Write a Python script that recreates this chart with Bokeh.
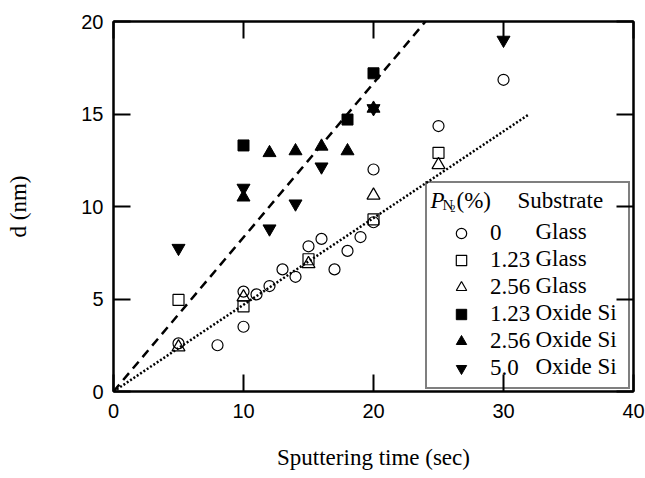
from bokeh.plotting import figure
from bokeh.models import Range1d, LinearAxis, FixedTicker, Legend, LegendItem
from bokeh.core.properties import value
from bokeh.embed import file_html
from bokeh.resources import INLINE

# ---------------- data ----------------
glass0_x = [5, 8, 10, 10, 11, 12, 13, 14, 15, 16, 17, 18, 19, 20, 20, 25, 30]
glass0_y = [2.6, 2.5, 5.4, 3.5, 5.25, 5.7, 6.6, 6.2, 7.85, 8.25, 6.6, 7.6, 8.35, 12.0, 9.15, 14.35, 16.85]

glass123_x = [5, 10, 15, 20, 25]
glass123_y = [4.95, 4.6, 7.15, 9.3, 12.9]

glass256_x = [5, 10, 15, 20, 25]
glass256_y = [2.4, 5.1, 6.9, 10.6, 12.25]

oxide123_x = [10, 18, 20]
oxide123_y = [13.3, 14.7, 17.2]

oxide256_x = [10, 12, 14, 16, 18, 20]
oxide256_y = [10.5, 12.9, 13.0, 13.25, 13.0, 15.3]

oxide50_x = [5, 10, 12, 14, 16, 20, 30]
oxide50_y = [7.75, 11.0, 8.8, 10.15, 12.15, 15.3, 19.0]

pn2_labels = ["0", "1.23", "2.56", "1.23", "2.56", "5.0"]
substrate_labels = ["Glass", "Glass", "Glass", "Oxide Si", "Oxide Si", "Oxide Si"]

fit_oxide_x = [0, 24]
fit_oxide_y = [0, 20.0]
fit_glass_x = [0, 32]
fit_glass_y = [0, 15.0]

xticks = [0, 10, 20, 30, 40]
yticks = [0, 5, 10, 15, 20]
x_lo, x_hi = 0, 40
y_lo, y_hi = 0, 20

# ---------------- figure ----------------
W, H = 645, 478
BL, BR, BT, BB = 113, 12, 21, 87
FW, FH = W - BL - BR, H - BT - BB
p = figure(width=W, height=H, x_range=Range1d(x_lo, x_hi), y_range=Range1d(y_lo, y_hi),
           output_backend="svg", toolbar_location=None,
           x_axis_location=None, y_axis_location=None,
           min_border_left=BL, min_border_right=BR, min_border_top=BT, min_border_bottom=BB)
p.background_fill_color = "white"
p.border_fill_color = "white"
p.outline_line_color = "black"
p.outline_line_width = 2
p.xgrid.visible = False
p.ygrid.visible = False

serif = "Liberation Serif"

def style(ax, show):
    ax.axis_line_width = 2
    ax.axis_line_color = "black"
    ax.major_tick_line_width = 2
    ax.major_tick_line_color = "black"
    ax.major_tick_in = 17
    ax.major_tick_out = 0
    ax.minor_tick_line_color = None
    ax.major_label_text_font = "Liberation Sans"
    ax.major_label_text_color = "black"
    ax.major_label_text_font_size = "20px" if show else "0px"

xb = LinearAxis(ticker=FixedTicker(ticks=xticks)); style(xb, True); xb.major_label_standoff = 12
xb.axis_label = "Sputtering time (sec)"
xb.axis_label_text_font = serif
xb.axis_label_text_font_size = "23px"
xb.axis_label_text_font_style = "normal"
xb.axis_label_text_color = "black"
xb.axis_label_standoff = 24

yl = LinearAxis(ticker=FixedTicker(ticks=yticks)); style(yl, True); yl.major_label_standoff = 10
yl.axis_label = "d (nm)"
yl.axis_label_text_font = serif
yl.axis_label_text_font_size = "23px"
yl.axis_label_text_font_style = "normal"
yl.axis_label_text_color = "black"
yl.axis_label_standoff = 47

xt = LinearAxis(ticker=FixedTicker(ticks=xticks)); style(xt, False); xt.major_label_standoff = 0
yr = LinearAxis(ticker=FixedTicker(ticks=yticks)); style(yr, False); yr.major_label_standoff = 0
p.add_layout(xb, "below")
p.add_layout(yl, "left")
p.add_layout(xt, "above")
p.add_layout(yr, "right")

# fit lines
p.line(fit_oxide_x, fit_oxide_y, line_color="black", line_width=2.5, line_dash="9 6")
p.line(fit_glass_x, fit_glass_y, line_color="black", line_width=2.5, line_dash="2 2")

# markers
r0 = p.scatter(glass0_x, glass0_y, marker="circle", size=11, fill_color=None, line_color="black", line_width=1.2)
r1 = p.scatter(glass123_x, glass123_y, marker="square", size=11, fill_color=None, line_color="black", line_width=1.2)
r2 = p.scatter(glass256_x, glass256_y, marker="triangle", size=13, fill_color=None, line_color="black", line_width=1.2)
r3 = p.scatter(oxide123_x, oxide123_y, marker="square", size=11, fill_color="black", line_color="black")
r4 = p.scatter(oxide256_x, oxide256_y, marker="triangle", size=13, fill_color="black", line_color="black")
r5 = p.scatter(oxide50_x, oxide50_y, marker="inverted_triangle", size=13, fill_color="black", line_color="black")
renderers = [r0, r1, r2, r3, r4, r5]

# legend (transparent body so the extra legend texts drawn in the plot stay visible)
LEG_X, LEG_Y, PAD, ROW, SP = 312, 2, 6, 26, 1
items = [LegendItem(label=lab, renderers=[r]) for lab, r in zip(pn2_labels, renderers)]
legend = Legend(items=items, location=(LEG_X, LEG_Y), padding=PAD, spacing=SP, margin=0,
                glyph_width=56, glyph_height=ROW, label_height=ROW, label_width=132,
                label_standoff=1, label_text_font=serif, label_text_font_size="23px",
                label_text_color="black",
                border_line_color="black", border_line_width=2, background_fill_color="white",
                background_fill_alpha=0, title=" ", title_text_font_size="23px",
                title_text_font=serif, title_standoff=5)
p.add_layout(legend)

# helpers: pixel offsets inside the frame -> data coordinates (for text placement)
def dx(px):
    return x_lo + px * (x_hi - x_lo) / FW

def dy(py):
    return y_lo + py * (y_hi - y_lo) / FH

n = len(substrate_labels)
sub_x = [dx(422)] * n
sub_y = [dy(LEG_Y + PAD + ROW / 2 + 4 + (n - 1 - i) * (ROW + SP)) for i in range(n)]
p.text(sub_x, sub_y, text=substrate_labels, text_font=value(serif), text_font_size=value("23px"),
       text_baseline="middle", text_align="left", text_color="black")

# legend title  P_N2 (%) Substrate
def title_part(px, py, text, size, style="normal"):
    p.text([dx(px)], [dy(py)], text=[text], text_font=value(serif), text_font_size=value(size),
           text_font_style=style, text_baseline="alphabetic", text_align="left",
           text_color="black")

title_part(317, 191, "P", "23px", "italic")
title_part(329, 187, "N", "15px")
title_part(337, 183, "2", "10px")
title_part(343, 191, "(%)", "23px")
title_part(404, 191, "Substrate", "23px")

open("out.html", "w").write(file_html(p, INLINE))
